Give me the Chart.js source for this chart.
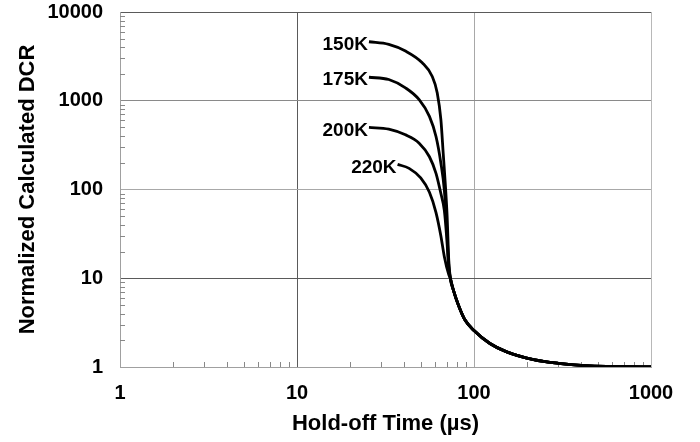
<!DOCTYPE html>
<html>
<head>
<meta charset="utf-8">
<title>Normalized DCR vs hold-off time</title>
<script src="https://cdn.jsdelivr.net/npm/chart.js@4.4.1/dist/chart.umd.min.js"></script>
<style>
  html, body { margin: 0; padding: 0; background: #fff; }
  #wrap { width: 700px; height: 442px; }
</style>
</head>
<body>
<div id="wrap"><canvas id="dcr-chart" width="700" height="442"></canvas></div>
<script>
// hold-off time (us) and normalized DCR per temperature, before the curves merge
var time150 = [25.5, 33, 41, 51, 58, 62, 65, 67, 69, 70.5, 72];
var dcr150  = [4620, 4320, 3630, 2680, 1890, 1225, 611, 256, 107, 50, 16];

var time175 = [25.5, 33, 41, 49, 56, 61, 65, 68, 70, 72];
var dcr175  = [1840, 1734, 1397, 1029, 666, 395, 198, 98, 40, 14];

var time200 = [25.5, 33, 41, 49, 56, 61, 65, 68, 70, 72];
var dcr200  = [500, 479, 413, 333, 234, 152, 90, 58, 30, 13];

var time220 = [37, 43, 50, 56, 61, 65, 68, 72];
var dcr220  = [192, 173, 135, 93, 55, 30, 17.5, 11];

// common tail, all temperatures fall on the same curve here
var tailTime = [73.5, 76.4, 81.6, 89, 100, 123, 153, 217, 300, 450, 700, 1000];
var tailDcr  = [10, 7.4, 5.0, 3.38, 2.58, 1.84, 1.48, 1.21, 1.1, 1.03, 1.01, 1.0];

var tempLabels = ['150K', '175K', '200K', '220K'];
var xTicks = [1, 10, 100, 1000];
var yTicks = [1, 10, 100, 1000, 10000];

function toPoints(xs, ys) {
  var pts = [];
  for (var i = 0; i < xs.length; i++) pts.push({ x: xs[i], y: ys[i] });
  for (var j = 0; j < tailTime.length; j++) pts.push({ x: tailTime[j], y: tailDcr[j] });
  return pts;
}

var series = [
  toPoints(time150, dcr150),
  toPoints(time175, dcr175),
  toPoints(time200, dcr200),
  toPoints(time220, dcr220)
];

var FONT = '"Liberation Sans", Arial, Helvetica, sans-serif';
var NARROW = '"Liberation Sans Narrow", "Arial Narrow", "Liberation Sans", sans-serif';

// grid shades per decade line
var xGridShade = { 1: '#a0a0a0', 10: '#5a5a5a', 100: '#a8a8a8', 1000: '#b8b8b8' };
var yGridShade = { 1: '#a0a0a0', 10: '#5a5a5a', 100: '#a8a8a8', 1000: '#8a8a8a', 10000: '#5a5a5a' };

// small inward minor ticks on both log axes
var minorTicks = {
  id: 'minorTicks',
  beforeDatasetsDraw: function(chart) {
    var ctx = chart.ctx, area = chart.chartArea;
    var xs = chart.scales.x, ys = chart.scales.y;
    ctx.save();
    ctx.strokeStyle = '#888';
    ctx.lineWidth = 1;
    ctx.beginPath();
    for (var e = 0; e < 3; e++) {
      for (var k = 2; k < 10; k++) {
        var px = Math.round(xs.getPixelForValue(k * Math.pow(10, e))) + 0.5;
        ctx.moveTo(px, area.bottom);
        ctx.lineTo(px, area.bottom - 5);
      }
    }
    for (var e2 = 0; e2 < 4; e2++) {
      for (var k2 = 2; k2 < 10; k2++) {
        var py = Math.round(ys.getPixelForValue(k2 * Math.pow(10, e2))) + 0.5;
        ctx.moveTo(area.left, py);
        ctx.lineTo(area.left + 5, py);
      }
    }
    ctx.stroke();
    ctx.restore();
  }
};

// temperature name written just left of where each curve starts
var curveLabels = {
  id: 'curveLabels',
  afterDatasetsDraw: function(chart) {
    var ctx = chart.ctx;
    ctx.save();
    ctx.font = 'bold 19px ' + FONT;
    ctx.fillStyle = '#000';
    ctx.textAlign = 'right';
    ctx.textBaseline = 'middle';
    chart.data.datasets.forEach(function(ds, i) {
      var p = chart.getDatasetMeta(i).data[0];
      ctx.fillText(ds.label, p.x - 1, p.y + 3);
    });
    ctx.restore();
  }
};

var datasets = series.map(function(pts, i) {
  return {
    label: tempLabels[i],
    data: pts,
    borderColor: '#000',
    borderWidth: 2.8,
    pointRadius: 0,
    fill: false,
    cubicInterpolationMode: 'monotone'
  };
});

new Chart(document.getElementById('dcr-chart'), {
  type: 'line',
  data: { datasets: datasets },
  plugins: [minorTicks, curveLabels],
  options: {
    responsive: false,
    animation: false,
    layout: { padding: { top: 12, right: 49, left: 0, bottom: 0 } },
    plugins: {
      legend: { display: false },
      tooltip: { enabled: false }
    },
    scales: {
      x: {
        type: 'logarithmic',
        min: 1,
        max: 1000,
        afterBuildTicks: function(scale) {
          scale.ticks = xTicks.map(function(v) { return { value: v }; });
        },
        afterFit: function(scale) { scale.height = 75; },
        grid: {
          lineWidth: 1,
          drawTicks: false,
          color: function(c) { return xGridShade[c.tick ? c.tick.value : 1] || '#a0a0a0'; }
        },
        border: { color: '#a0a0a0' },
        ticks: {
          color: '#000',
          padding: 14,
          maxRotation: 0,
          autoSkip: false,
          font: { family: FONT, size: 20, weight: 'bold' },
          callback: function(v) { return String(v); }
        },
        title: {
          display: true,
          text: 'Hold-off Time (\u00b5s)',
          color: '#000',
          padding: { top: 0, bottom: 5 },
          font: { family: FONT, size: 22, weight: 'bold' }
        }
      },
      y: {
        type: 'logarithmic',
        min: 1,
        max: 10000,
        afterBuildTicks: function(scale) {
          scale.ticks = yTicks.map(function(v) { return { value: v }; });
        },
        afterFit: function(scale) {
          scale.width = 120;
          // the top label may overhang, keep the plot up against the layout padding
          scale.paddingTop = 0;
          scale.paddingBottom = 0;
        },
        grid: {
          lineWidth: 1,
          drawTicks: false,
          color: function(c) { return yGridShade[c.tick ? c.tick.value : 1] || '#a0a0a0'; }
        },
        border: { color: '#a0a0a0' },
        ticks: {
          color: '#000',
          padding: 17,
          autoSkip: false,
          font: { family: FONT, size: 20, weight: 'bold' },
          callback: function(v) { return String(v); }
        },
        title: {
          display: true,
          text: 'Normalized Calculated DCR',
          color: '#000',
          padding: { top: 15, bottom: 0 },
          font: { family: NARROW, size: 22, weight: 'bold' }
        }
      }
    }
  }
});
</script>
</body>
</html>
